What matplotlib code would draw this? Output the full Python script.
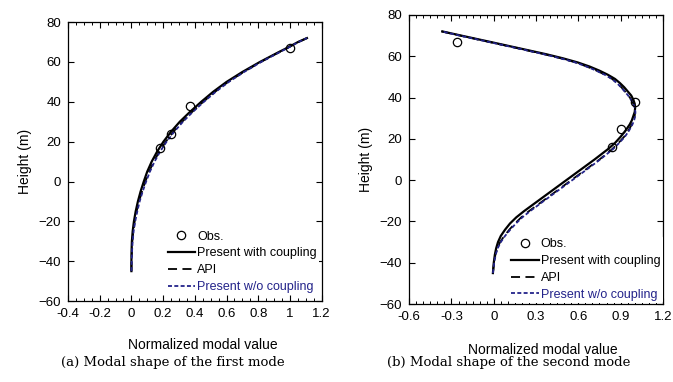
import numpy as np
import matplotlib
matplotlib.use("Agg")
import matplotlib.pyplot as plt
from matplotlib.ticker import MultipleLocator, FuncFormatter

plt.rcParams['font.family'] = ['Liberation Sans', 'DejaVu Sans']

# first mode
h_a = [-45, -40, -35, -30, -25, -20, -15, -10, -5, 0, 5, 10, 15, 20, 25, 30, 35, 40, 45, 50, 55, 60, 65, 67, 70, 72]
cpl_a = [0.0, 0.0, 0.001, 0.003, 0.008, 0.016, 0.027, 0.041, 0.058, 0.078, 0.1, 0.128, 0.162, 0.202, 0.25, 0.305, 0.37, 0.44, 0.515, 0.6, 0.7, 0.81, 0.93, 0.98, 1.05, 1.107]
api_a = [0.0, 0.001, 0.003, 0.006, 0.012, 0.021, 0.033, 0.048, 0.067, 0.088, 0.112, 0.141, 0.176, 0.217, 0.265, 0.32, 0.384, 0.453, 0.527, 0.61, 0.708, 0.816, 0.934, 0.983, 1.052, 1.107]
woc_a = [0.0, 0.002, 0.004, 0.008, 0.014, 0.024, 0.037, 0.052, 0.071, 0.093, 0.117, 0.146, 0.181, 0.222, 0.27, 0.325, 0.388, 0.457, 0.531, 0.614, 0.711, 0.818, 0.936, 0.985, 1.053, 1.107]
obs_xa = [0.18, 0.25, 0.37, 1.0]
obs_ya = [17, 24, 38, 67]

# second mode
h_b = [-45, -40, -36, -33, -30, -27, -24, -21, -18, -15, -10, -5, 0, 5, 10, 15, 18, 21, 24, 27,
       29, 31, 33, 35, 37, 39, 41, 43, 45, 47, 49, 51, 53, 55, 57, 59, 61, 64, 67, 70, 72]
cpl_b = [-0.006, 0.0, 0.008, 0.017, 0.03, 0.05, 0.08, 0.115, 0.16, 0.215, 0.315, 0.415, 0.515, 0.615, 0.715, 0.81, 0.86, 0.9, 0.935, 0.965,
         0.98, 0.99, 1.0, 1.003, 1.0, 0.99, 0.975, 0.95, 0.925, 0.895, 0.86, 0.81, 0.75, 0.68, 0.595, 0.49, 0.37, 0.17, -0.03, -0.232, -0.365]
api_b = [-0.006, 0.002, 0.012, 0.025, 0.045, 0.075, 0.11, 0.15, 0.195, 0.25, 0.35, 0.45, 0.55, 0.65, 0.75, 0.84, 0.885, 0.925, 0.955, 0.98,
         0.993, 1.0, 1.003, 1.0, 0.99, 0.975, 0.955, 0.93, 0.905, 0.875, 0.84, 0.79, 0.73, 0.66, 0.58, 0.475, 0.355, 0.16, -0.04, -0.24, -0.37]
woc_b = [-0.006, 0.003, 0.014, 0.028, 0.05, 0.08, 0.117, 0.157, 0.203, 0.258, 0.357, 0.457, 0.557, 0.657, 0.755, 0.845, 0.89, 0.93, 0.96, 0.984,
         0.996, 1.003, 1.005, 1.0, 0.99, 0.973, 0.953, 0.928, 0.903, 0.873, 0.838, 0.788, 0.728, 0.658, 0.578, 0.473, 0.353, 0.158, -0.042, -0.242, -0.37]
obs_xb = [-0.26, 1.0, 0.9, 0.84]
obs_yb = [67, 38, 25, 16]

navy = '#23238a'

fig = plt.figure(figsize=(6.73, 3.82), dpi=100)
ax1 = fig.add_axes([0.101, 0.212, 0.377, 0.730])
ax2 = fig.add_axes([0.608, 0.204, 0.377, 0.757])


def draw(ax, h, cpl, api, woc, ox, oy, xlim, xmaj, leg_anchor, xlab_pos):
    ax.plot(ox, oy, 'o', mfc='none', mec='black', ms=6, mew=0.9, label='Obs.', zorder=4)
    ax.plot(cpl, h, '-', color='black', lw=1.6, label='Present with coupling')
    ax.plot(api, h, '--', color='black', lw=1.3, dashes=(5, 3), label='API')
    ax.plot(woc, h, '--', color=navy, lw=1.3, dashes=(2.2, 1.3), label='Present w/o coupling')
    ax.set_xlim(*xlim)
    ax.set_ylim(-60, 80)
    ax.xaxis.set_major_locator(MultipleLocator(xmaj))
    ax.xaxis.set_minor_locator(MultipleLocator(0.05))
    ax.yaxis.set_major_locator(MultipleLocator(20))
    ax.tick_params(which='both', direction='in', top=True, right=True,
                   labelsize=9.5, colors='black', pad=5)
    ax.tick_params(which='major', length=4, width=0.8)
    ax.tick_params(which='minor', length=2.5, width=0.7)
    ax.tick_params(axis='y', which='minor', left=False, right=False)
    ax.xaxis.set_major_formatter(FuncFormatter(lambda v, p: '%g' % round(v, 2)))
    for s in ax.spines.values():
        s.set_linewidth(0.9)
    ax.set_ylabel('Height (m)', fontsize=10, labelpad=5)
    ax.set_xlabel('Normalized modal value', fontsize=10)
    ax.xaxis.set_label_coords(*xlab_pos)
    leg = ax.legend(loc='lower right', bbox_to_anchor=leg_anchor, fontsize=9,
                    frameon=True, facecolor='white', edgecolor='none', framealpha=1,
                    handlelength=2.2, handletextpad=0.15, labelspacing=0.38,
                    borderpad=0.2, borderaxespad=0)
    leg.get_frame().set_linewidth(0)
    leg.get_texts()[3].set_color(navy)
    leg.set_zorder(10)


draw(ax1, h_a, cpl_a, api_a, woc_a, obs_xa, obs_ya, (-0.4, 1.2), 0.2,
     (0.99, 0.02), (0.531, -0.133))
draw(ax2, h_b, cpl_b, api_b, woc_b, obs_xb, obs_yb, (-0.6, 1.2), 0.3,
     (1.0, 0.003), (0.528, -0.135))

fig.text(0.257, 0.052, '(a) Modal shape of the first mode', ha='center', va='center',
         fontsize=9.5, family='DejaVu Serif')
fig.text(0.756, 0.052, '(b) Modal shape of the second mode', ha='center', va='center',
         fontsize=9.5, family='DejaVu Serif')

fig.savefig('out.png', dpi=100)
